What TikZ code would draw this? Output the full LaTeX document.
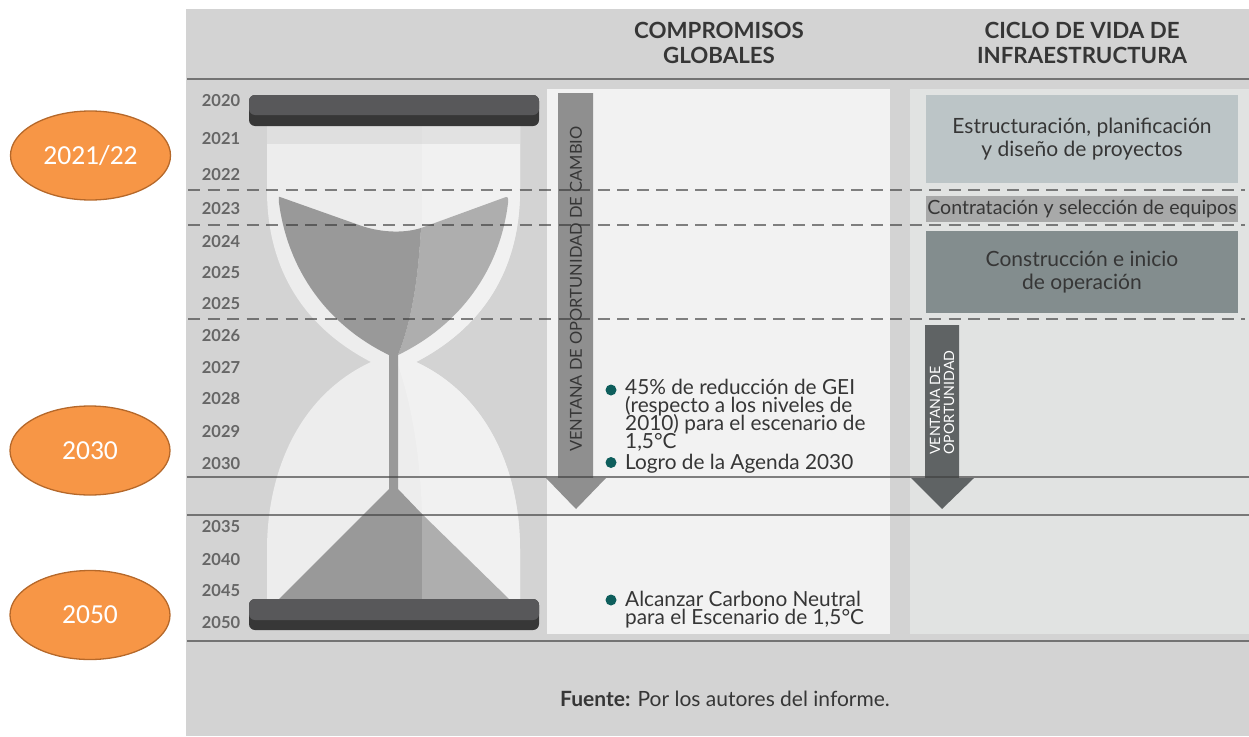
\documentclass[tikz,border=0pt]{standalone}
\usepackage{fontspec}
\setmainfont{Lato}
\newfontfamily\calloutfont{Carlito}
\usetikzlibrary{shapes.geometric}
% keep line pitch exact in tightly set paragraphs
\normallineskiplimit=-20pt\relax
\lineskiplimit=-20pt\relax
\definecolor{panel}{HTML}{D3D3D3}
\definecolor{colA}{HTML}{F2F2F2}
\definecolor{colB}{HTML}{E1E3E2}
\definecolor{glassL}{HTML}{EDEDED}
\definecolor{glassR}{HTML}{F1F1F1}
\definecolor{sandL}{HTML}{999999}
\definecolor{sandR}{HTML}{AEAEAE}
\definecolor{capTop}{HTML}{58585A}
\definecolor{capLow}{HTML}{373737}
\definecolor{ink}{HTML}{363636}
\definecolor{yearink}{HTML}{666666}
\definecolor{teal}{HTML}{0E5E5C}
\definecolor{orangeFill}{HTML}{F79646}
\definecolor{orangeLine}{HTML}{B5682A}
\definecolor{arrowA}{HTML}{8F8F8F}
\definecolor{arrowB}{HTML}{5F6364}
\definecolor{stageA}{HTML}{BCC5C7}
\definecolor{stageB}{HTML}{A8A9A9}
\definecolor{stageC}{HTML}{838D8E}
\tikzset{
  year/.style={font=\fontsize{16.5}{16.5}\selectfont\bfseries, text=yearink, inner sep=0pt},
  head/.style={font=\fontsize{22.3}{25.5}\selectfont\bfseries, text=ink, align=center, inner sep=0pt},
  stage/.style={font=\fontsize{21}{23}\selectfont, text=ink, align=center, inner sep=0pt},
  goal/.style={font=\fontsize{20.8}{18}\selectfont, text=ink, align=left, anchor=north west, inner sep=0pt},
  dot/.style={circle, fill=teal, minimum size=11pt, inner sep=0pt},
  callout/.style={ellipse, draw=orangeLine, line width=1.3pt, fill=orangeFill, minimum width=160pt, minimum height=89pt, inner sep=0pt, text=white, font=\calloutfont\fontsize{27.5}{27.5}\selectfont},
  divider/.style={draw=black!75, opacity=.65, line width=1.3pt},
  dashline/.style={draw=black!80, opacity=.6, line width=1.2pt, dash pattern=on 12pt off 7.5pt},
}
\begin{document}
\begin{tikzpicture}[x=1pt,y=-1pt]
\useasboundingbox (0,0) rectangle (1249,736);
% panels
\fill[panel] (186,9) rectangle (1249,736);
\fill[colA] (547,89) rectangle (890,634);
\fill[colB] (910,89) rectangle (1249,634);
% glass body
\def\glasspath{(267,126) -- (267,190)
  .. controls (267,265) and (300,325) .. (371,362)
  .. controls (300,395) and (267,470) .. (267,550) -- (267,600)
  -- (520,600) -- (520,550)
  .. controls (520,470) and (487,395) .. (416,362)
  .. controls (487,325) and (520,265) .. (520,190) -- (520,126) -- cycle}
\fill[glassL] \glasspath;
\begin{scope}
  \clip \glasspath;
  \fill[glassR] (398,365) .. controls (410,400) and (420,450) .. (422,514) -- (422,600) -- (530,600) -- (530,126) -- (422,126) -- (422,228) .. controls (418,280) and (412,320) .. (398,355) -- cycle;
\end{scope}
\fill[black, opacity=.06] (267,126) rectangle (520,144);
% upper sand
\fill[sandR] (506,197) .. controls (509,197) and (508,200) .. (508,203)
  .. controls (500,270) and (460,325) .. (398,355)
  .. controls (412,320) and (418,280) .. (421,228) -- cycle;
\fill[sandL] (280,197) -- (359,225) .. controls (378,232) and (402,234) .. (421,228)
  .. controls (418,280) and (412,320) .. (398,355) -- (398,490) -- (389,490) -- (389,355)
  .. controls (327,325) and (288,270) .. (279,203) .. controls (279,199) and (278,196) .. (280,197) -- cycle;
% lower sand
\fill[sandL] (389,489) -- (398,489) -- (422,514) -- (422,599) -- (279,599) -- cycle;
\fill[sandR] (422,514) -- (509,599) -- (422,599) -- cycle;
% caps
\fill[capLow, rounded corners=6pt] (249,95) rectangle (539,126);
\fill[capTop, rounded corners=6pt] (249,95) rectangle (539,115);
\fill[capLow, rounded corners=6pt] (249,599) rectangle (539,630);
\fill[capTop, rounded corners=6pt] (249,599) rectangle (539,620);
% vertical arrows
\fill[arrowA] (558,93) -- (593,93) -- (593,478) -- (606,478) -- (576,509) -- (546,478) -- (558,478) -- cycle;
\fill[arrowB] (925,325) -- (959,325) -- (959,478) -- (974,478) -- (942,509) -- (911,478) -- (925,478) -- cycle;
\node[rotate=90, anchor=west, inner sep=0pt, text=ink, font=\fontsize{16.5}{16.5}\selectfont] (windowA) at (576,452) {VENTANA DE OPORTUNIDAD DE CAMBIO};
\node[rotate=90, anchor=west, inner sep=0pt, text=white, align=left, font=\fontsize{14.2}{14}\selectfont] (windowB) at (942,455) {VENTANA DE\\OPORTUNIDAD};
% stage boxes
\fill[stageA] (926,95) rectangle (1238,183);
\fill[stageB] (926,196) rectangle (1238,222);
\fill[stageC] (926,231) rectangle (1238,313);
\node[stage] (design) at (1082,139) {Estructuración, planificación\\y diseño de proyectos};
\node[stage, font=\fontsize{19.6}{23}\selectfont] (hiring) at (1082,209) {Contratación y selección de equipos};
\node[stage] (build) at (1082,272) {Construcción e inicio\\de operación};
% separators
\foreach \yy in {190,225,319} \draw[dashline] (188,\yy) -- (1245,\yy);
\foreach \yy in {79,477,515,641} \draw[divider] (187,\yy) -- (1249,\yy);
% headers
\node[head] (pledges) at (719,43) {COMPROMISOS\\GLOBALES};
\node[head] (lifecycle) at (1082,43) {CICLO DE VIDA DE\\INFRAESTRUCTURA};
% years
\foreach \yy/\lab in {101/2020,139/2021,175/2022,209/2023,242/2024,273/2025,304/2025,336/2026,368/2027,399/2028,432/2029,464/2030,527/2035,560/2040,591/2045,623/2050}
  \node[year] (y\yy) at (221,\yy) {\lab};
% goals
\node[dot] (b1) at (611,390) {};
\node[dot] (b2) at (611,462.5) {};
\node[dot] (b3) at (611,600) {};
\node[goal] (g1) at (625,378.5) {45\% de reducción de GEI\\(respecto a los niveles de\\2010) para el escenario de\\1,5°C};
\node[goal] (g2) at (625,454) {Logro de la Agenda 2030};
\node[goal] (g3) at (625,591) {Alcanzar Carbono Neutral\\para el Escenario de 1,5°C};
% source line
\node[inner sep=0pt, text=ink, font=\fontsize{21}{21}\selectfont] (source) at (725,699) {\textbf{Fuente:} Por los autores del informe.};
% year callouts
\node[callout] (c1) at (90.5,155.5) {2021/22};
\node[callout] (c2) at (90,450.5) {2030};
\node[callout] (c3) at (90,615) {2050};
\end{tikzpicture}
\end{document}
